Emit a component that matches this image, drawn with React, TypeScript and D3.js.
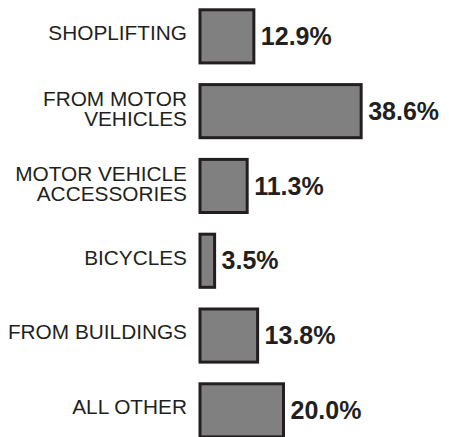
import React from "react";
import * as d3 from "d3";

const categories: string[][] = [
  ["SHOPLIFTING"],
  ["FROM MOTOR", "VEHICLES"],
  ["MOTOR VEHICLE", "ACCESSORIES"],
  ["BICYCLES"],
  ["FROM BUILDINGS"],
  ["ALL OTHER"],
];
const values: number[] = [12.9, 38.6, 11.3, 3.5, 13.8, 20.0];
const valueLabels: string[] = ["12.9%", "38.6%", "11.3%", "3.5%", "13.8%", "20.0%"];

const W = 449;
const H = 437;
const INK = "#231f20";
const FILL = "#808080";

export default function App() {
  const keys = categories.map((c) => c.join(" "));
  const x = d3.scaleLinear().domain([0, 40]).range([200, 367]);
  const y = d3
    .scaleBand<string>()
    .domain(keys)
    .range([9.8, 436.9])
    .paddingInner(0.29)
    .paddingOuter(0);
  const bw = y.bandwidth();

  return (
    <svg
      width={W}
      height={H}
      style={{ position: "absolute", left: 0, top: 0, background: "#fff" }}
      fontFamily="'Liberation Sans', Arial, Helvetica, sans-serif"
    >
      <rect x={0} y={0} width={W} height={H} fill="#fff" />
      {keys.map((k, i) => {
        const y0 = y(k) as number;
        const cy = y0 + bw / 2;
        const lines = categories[i];
        const x1 = x(values[i]);
        return (
          <g key={k}>
            <rect
              x={x(0)}
              y={y0}
              width={x1 - x(0)}
              height={bw}
              fill={FILL}
              stroke={INK}
              strokeWidth={3}
            />
            <text textAnchor="end" fontSize={20.8} fill={INK}>
              {lines.map((ln, j) => (
                <tspan
                  key={j}
                  x={187}
                  y={lines.length === 1 ? cy + 3.8 : cy - 5.3 + j * 20}
                >
                  {ln}
                </tspan>
              ))}
            </text>
            <text
              x={x1 + 7}
              y={cy + 8.7}
              fontSize={25}
              fontWeight="bold"
              fill={INK}
            >
              {valueLabels[i]}
            </text>
          </g>
        );
      })}
    </svg>
  );
}
